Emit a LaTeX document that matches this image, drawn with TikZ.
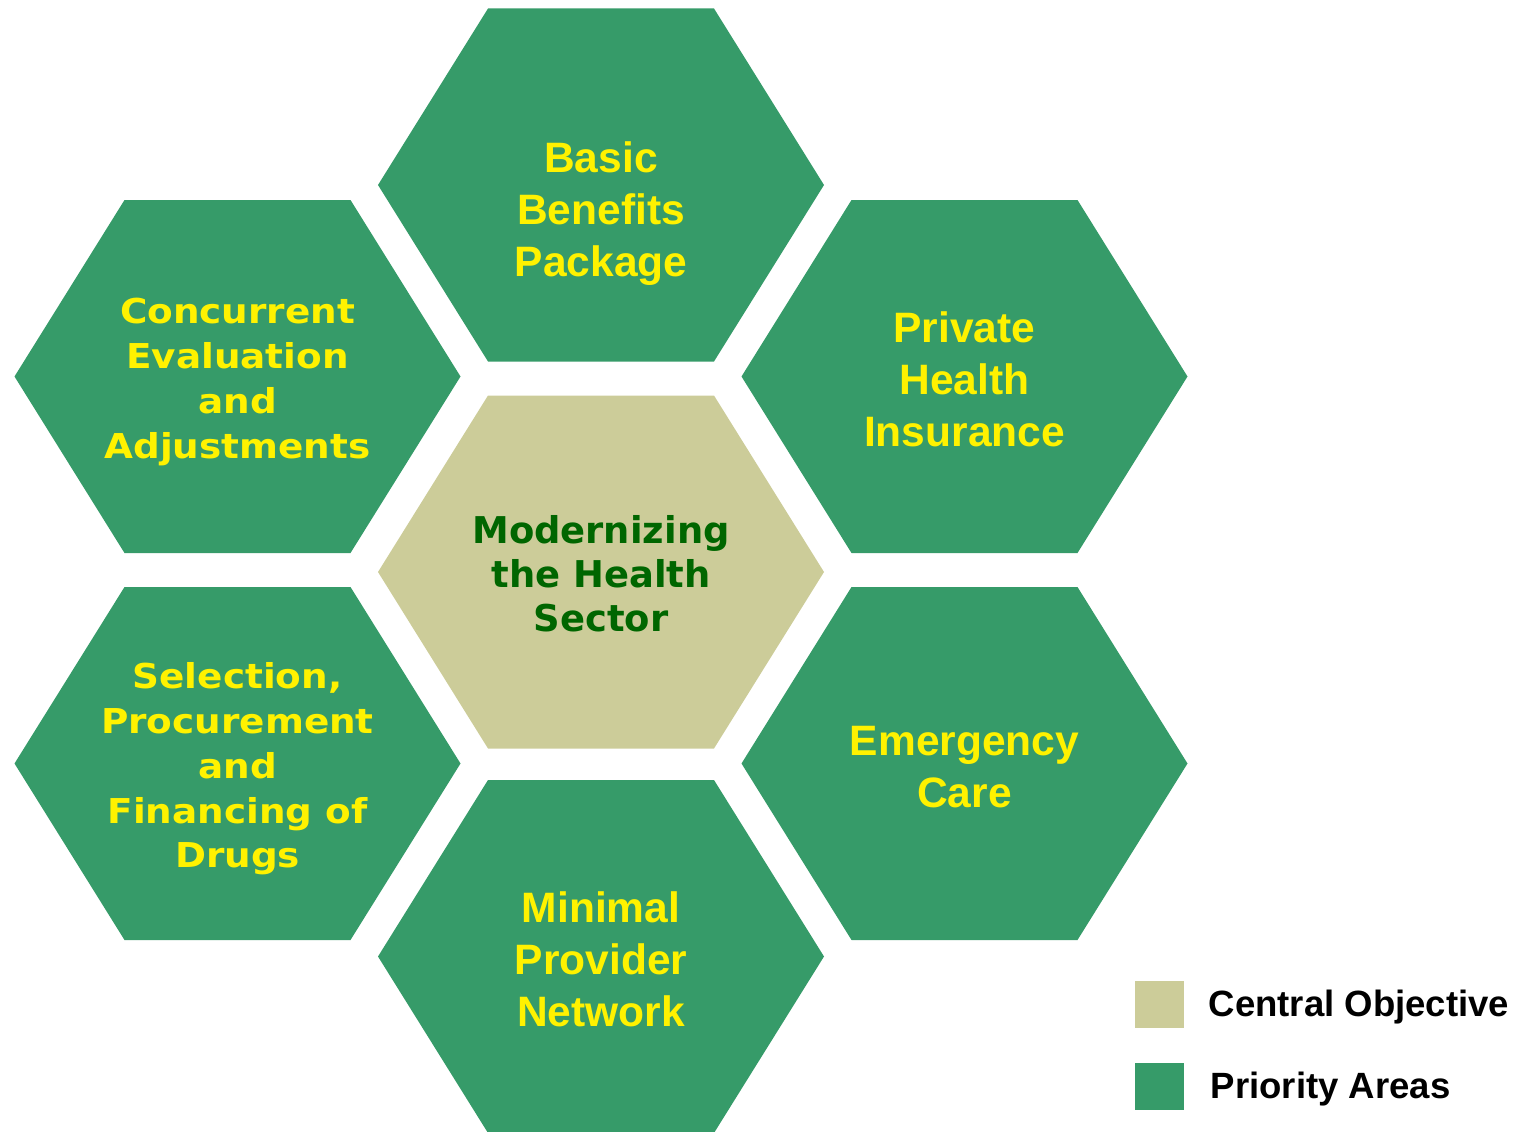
\documentclass[tikz,border=0pt]{standalone}
\usepackage{fontspec}
\setmainfont{Liberation Sans}
\newfontfamily\verdana[FakeStretch=1.09]{DejaVu Sans}
\newfontfamily\verdanacore{DejaVu Sans}
\usepackage{tikz}
\usetikzlibrary{positioning}
\definecolor{prioGreen}{RGB}{54,155,105}
\definecolor{coreTan}{RGB}{204,204,153}
\definecolor{coreText}{RGB}{0,102,0}
\tikzset{
  hexpath/.style = {insert path={(-223,0) -- (-113,-176.5) -- (113,-176.5)
    -- (223,0) -- (113,176.5) -- (-113,176.5) -- cycle}},
  hex_p/.style = {fill=prioGreen},% priority area
  hex_c/.style = {fill=coreTan},% central objective
  txt_a/.style = {align=center, inner sep=0pt, text=yellow,
    font=\fontsize{24.2}{29.5}\selectfont\bfseries},% arial-like
  txt_v/.style = {align=center, inner sep=0pt, text=yellow,
    font=\verdana\fontsize{19.5}{25.5}\selectfont\bfseries},% verdana-like
  txt_c/.style = {txt_v, text=coreText,
    font=\verdanacore\fontsize{21}{25}\selectfont\bfseries},
  key_box/.style = {inner sep=0pt, minimum width=0.98cm, minimum height=0.94cm},
  key_txt/.style = {inner sep=0pt, anchor=west,
    font=\fontsize{20.8}{24}\selectfont\bfseries}
}

\begin{document}
\begin{tikzpicture}[x=0.02cm,y=-0.02cm]
\useasboundingbox (0,0) rectangle (1535,1132);

% hexagon centres
\coordinate (hB) at (601,185);
\coordinate (hP) at (964.5,376.5);
\coordinate (hC) at (237.5,376.5);
\coordinate (hM) at (601,572);
\coordinate (hS) at (237.5,763.5);
\coordinate (hE) at (964.5,763.5);
\coordinate (hN) at (601,956.5);

\path[hex_p, shift={(hB)}, hexpath];
\path[hex_p, shift={(hP)}, hexpath];
\path[hex_p, shift={(hC)}, hexpath];
\path[hex_c, shift={(hM)}, hexpath];
\path[hex_p, shift={(hS)}, hexpath];
\path[hex_p, shift={(hE)}, hexpath];
\path[hex_p, shift={(hN)}, hexpath];

\node [txt_a] (basic) at ([yshift=-0.57cm]hB) {Basic\\Benefits\\Package};
\node [txt_a] (private) at ([yshift=-0.05cm]hP) {Private\\Health\\Insurance};
\node [txt_v] (concurrent) at ([yshift=-0.11cm]hC) {Concurrent\\Evaluation\\and\\Adjustments};
\node [txt_c] (core) at ([yshift=-0.03cm]hM) {Modernizing\\the Health\\Sector};
\node [txt_v] (selection) at ([yshift=-0.11cm]hS) {Selection,\\Procurement\\and\\Financing of\\Drugs};
\node [txt_a] (emergency) at ([yshift=-0.07cm]hE) {Emergency\\Care};
\node [txt_a] (minimal) at ([yshift=-0.06cm]hN) {Minimal\\Provider\\Network};

% legend
\node [key_box, fill=coreTan] (keyCore) at (1159.5,1004.5) {};
\node [key_box, fill=prioGreen] (keyPrio) at (1159.5,1086.5) {};
\node [key_txt, right=0.48cm of keyCore, yshift=-0.05cm] (keyCoreTxt) {Central Objective};
\node [key_txt, right=0.52cm of keyPrio, yshift=-0.05cm] (keyPrioTxt) {Priority Areas};
\end{tikzpicture}
\end{document}
